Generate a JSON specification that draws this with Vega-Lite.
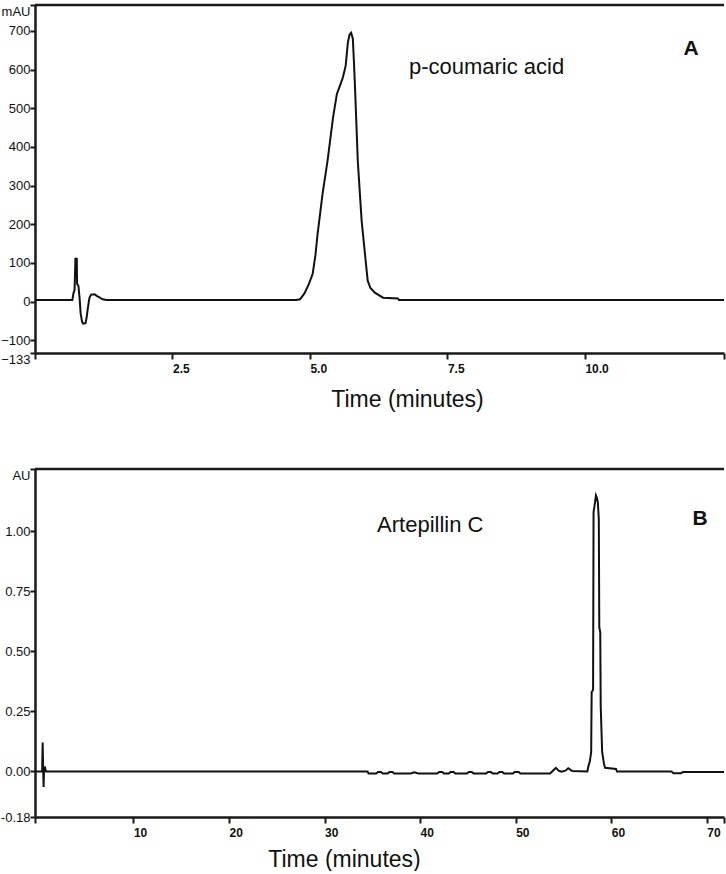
{
  "$schema": "https://vega.github.io/schema/vega-lite/v6.json",
  "background": "white",
  "padding": {"left": 0, "top": 3, "right": 0, "bottom": 0},
  "spacing": 56,
  "datasets": {
    "a": [
      {"t": 0, "v": 4}, {"t": 0.68, "v": 4}, {"t": 0.7, "v": 22}, {"t": 0.72, "v": 30},
      {"t": 0.735, "v": 111}, {"t": 0.76, "v": 111}, {"t": 0.765, "v": 46}, {"t": 0.79, "v": 40},
      {"t": 0.81, "v": 10}, {"t": 0.83, "v": -30}, {"t": 0.855, "v": -52}, {"t": 0.875, "v": -57},
      {"t": 0.92, "v": -56}, {"t": 0.94, "v": -40}, {"t": 0.96, "v": -18}, {"t": 0.99, "v": 10},
      {"t": 1.02, "v": 18}, {"t": 1.08, "v": 19}, {"t": 1.13, "v": 14}, {"t": 1.18, "v": 10},
      {"t": 1.23, "v": 6}, {"t": 1.3, "v": 4}, {"t": 4.75, "v": 4}, {"t": 4.82, "v": 6},
      {"t": 4.9, "v": 21}, {"t": 4.98, "v": 45}, {"t": 5.05, "v": 72}, {"t": 5.1, "v": 120},
      {"t": 5.14, "v": 176}, {"t": 5.23, "v": 279}, {"t": 5.32, "v": 364}, {"t": 5.42, "v": 476},
      {"t": 5.49, "v": 537}, {"t": 5.55, "v": 560}, {"t": 5.6, "v": 580}, {"t": 5.65, "v": 610},
      {"t": 5.69, "v": 670}, {"t": 5.72, "v": 690}, {"t": 5.75, "v": 695}, {"t": 5.78, "v": 680},
      {"t": 5.8, "v": 620}, {"t": 5.82, "v": 553}, {"t": 5.87, "v": 364}, {"t": 5.94, "v": 209},
      {"t": 6.0, "v": 124}, {"t": 6.05, "v": 54}, {"t": 6.1, "v": 35}, {"t": 6.18, "v": 23},
      {"t": 6.33, "v": 10}, {"t": 6.6, "v": 8}, {"t": 6.62, "v": 4}, {"t": 12.53, "v": 4}
    ],
    "b": [
      {"t": -0.3, "v": 0}, {"t": 0.45, "v": 0}, {"t": 0.5, "v": 0.12}, {"t": 0.55, "v": 0.02},
      {"t": 0.6, "v": -0.065}, {"t": 0.65, "v": 0.01}, {"t": 0.75, "v": 0.015}, {"t": 0.85, "v": 0},
      {"t": 34.5, "v": 0}, {"t": 34.6, "v": -0.009}, {"t": 35.4, "v": -0.009}, {"t": 35.6, "v": -0.002},
      {"t": 35.9, "v": -0.002}, {"t": 36.1, "v": -0.009}, {"t": 36.6, "v": -0.009}, {"t": 36.8, "v": -0.002},
      {"t": 37.1, "v": -0.002}, {"t": 37.3, "v": -0.009}, {"t": 39.0, "v": -0.009}, {"t": 39.4, "v": -0.004},
      {"t": 39.8, "v": -0.009}, {"t": 41.8, "v": -0.009}, {"t": 42.0, "v": -0.002}, {"t": 42.3, "v": -0.002},
      {"t": 42.5, "v": -0.009}, {"t": 43.0, "v": -0.009}, {"t": 43.2, "v": -0.002}, {"t": 43.5, "v": -0.002},
      {"t": 43.7, "v": -0.009}, {"t": 44.9, "v": -0.009}, {"t": 45.1, "v": -0.002}, {"t": 45.4, "v": -0.002},
      {"t": 45.6, "v": -0.009}, {"t": 46.9, "v": -0.009}, {"t": 47.1, "v": -0.002}, {"t": 47.4, "v": -0.002},
      {"t": 47.6, "v": -0.009}, {"t": 48.1, "v": -0.009}, {"t": 48.3, "v": -0.002}, {"t": 48.6, "v": -0.002},
      {"t": 48.8, "v": -0.009}, {"t": 49.7, "v": -0.009}, {"t": 49.9, "v": -0.002}, {"t": 50.3, "v": -0.002},
      {"t": 50.5, "v": -0.009}, {"t": 53.6, "v": -0.009}, {"t": 53.9, "v": 0.003}, {"t": 54.2, "v": 0.015},
      {"t": 54.5, "v": 0.003}, {"t": 54.8, "v": -0.001}, {"t": 55.2, "v": 0.003}, {"t": 55.5, "v": 0.013},
      {"t": 55.9, "v": 0.002}, {"t": 57.5, "v": 0}, {"t": 57.6, "v": 0.02}, {"t": 57.75, "v": 0.04},
      {"t": 57.9, "v": 0.08}, {"t": 57.95, "v": 0.33}, {"t": 58.1, "v": 0.34}, {"t": 58.15, "v": 1.08},
      {"t": 58.3, "v": 1.12}, {"t": 58.4, "v": 1.15}, {"t": 58.5, "v": 1.14}, {"t": 58.6, "v": 1.12},
      {"t": 58.7, "v": 1.05}, {"t": 58.75, "v": 0.6}, {"t": 58.85, "v": 0.58}, {"t": 58.9, "v": 0.27},
      {"t": 59.05, "v": 0.08}, {"t": 59.25, "v": 0.03}, {"t": 59.35, "v": 0.015}, {"t": 60.5, "v": 0.01},
      {"t": 60.6, "v": 0}, {"t": 66.3, "v": 0}, {"t": 66.5, "v": -0.008}, {"t": 67.3, "v": -0.008},
      {"t": 67.5, "v": -0.002}, {"t": 71.8, "v": -0.002}
    ],
    "notesA": [{"label": "p-coumaric acid"}],
    "tagA": [{"label": "A"}],
    "notesB": [{"label": "Artepillin C"}],
    "tagB": [{"label": "B"}]
  },
  "vconcat": [
    {
      "width": 689,
      "height": 348,
      "layer": [
        {
          "data": {"name": "a"},
          "mark": {"type": "line", "color": "#111", "strokeWidth": 2, "interpolate": "linear"},
          "encoding": {
            "x": {
              "field": "t", "type": "quantitative",
              "scale": {"domain": [0, 12.53], "nice": false, "zero": false},
              "axis": {
                "values": [0, 2.5, 5, 7.5, 10, 12.53], "tickCount": 20,
                "labelExpr": "(datum.value == 0 || datum.value > 12) ? '' : format(datum.value, '.1f')",
                "labelAlign": "left", "labelFontWeight": "bold", "labelFontSize": 12,
                "labelPadding": 4, "tickSize": 6, "labelFlush": false, "labelOverlap": false,
                "title": "Time (minutes)", "titleFontSize": 23, "titleFontWeight": "normal",
                "titleX": 372, "titleY": 46, "titleBaseline": "middle", "titleAnchor": null
              }
            },
            "y": {
              "field": "v", "type": "quantitative",
              "scale": {"domain": [-133, 767], "nice": false, "zero": false},
              "axis": {
                "values": [-133, -100, 0, 100, 200, 300, 400, 500, 600, 700, 767], "tickCount": 20,
                "labelExpr": "datum.value > 750 ? 'mAU' : format(datum.value, 'd')",
                "labelBaseline": {"condition": {"test": "datum.value > 750 || datum.value < -120", "value": "top"}, "value": "middle"},
                "labelFontSize": 13, "labelPadding": 0, "tickSize": 5,
                "labelOverlap": false, "labelFlush": false, "title": null
              }
            }
          }
        },
        {
          "data": {"name": "tagA"},
          "mark": {"type": "rule", "color": "#1a1a1a", "strokeWidth": 2.5},
          "encoding": {"y": {"datum": 767}}
        },
        {
          "data": {"name": "notesA"},
          "mark": {"type": "text", "align": "left", "baseline": "middle", "fontSize": 22, "color": "#111"},
          "encoding": {"text": {"field": "label"}, "x": {"datum": 6.8}, "y": {"datum": 607}}
        },
        {
          "data": {"name": "tagA"},
          "mark": {"type": "text", "align": "center", "baseline": "middle", "fontSize": 21, "fontWeight": "bold", "color": "#111"},
          "encoding": {"text": {"field": "label"}, "x": {"datum": 11.93}, "y": {"datum": 654}}
        }
      ]
    },
    {
      "width": 689,
      "height": 348,
      "layer": [
        {
          "data": {"name": "b"},
          "mark": {"type": "line", "color": "#111", "strokeWidth": 2, "interpolate": "linear"},
          "encoding": {
            "x": {
              "field": "t", "type": "quantitative",
              "scale": {"domain": [-0.3, 71.8], "nice": false, "zero": false},
              "axis": {
                "values": [-0.3, 10, 20, 30, 40, 50, 60, 70, 71.8], "tickCount": 20,
                "labelExpr": "(datum.value < 1 || datum.value > 71) ? '' : format(datum.value, 'd')",
                "labelAlign": "left", "labelFontWeight": "bold", "labelFontSize": 12,
                "labelPadding": 4, "tickSize": 6, "labelFlush": false, "labelOverlap": false,
                "title": "Time (minutes)", "titleFontSize": 23, "titleFontWeight": "normal",
                "titleX": 309, "titleY": 42, "titleBaseline": "middle", "titleAnchor": null
              }
            },
            "y": {
              "field": "v", "type": "quantitative",
              "scale": {"domain": [-0.19, 1.26], "nice": false, "zero": false},
              "axis": {
                "values": [-0.19, 0, 0.25, 0.5, 0.75, 1, 1.26], "tickCount": 20,
                "labelExpr": "datum.value > 1.2 ? 'AU' : (datum.value < -0.1 ? '-0.18' : format(datum.value, '.2f'))",
                "labelBaseline": {"condition": {"test": "datum.value > 1.2", "value": "top"}, "value": "middle"},
                "labelFontSize": 13, "labelPadding": 0, "tickSize": 5,
                "labelOverlap": false, "labelFlush": false, "title": null
              }
            }
          }
        },
        {
          "data": {"name": "tagB"},
          "mark": {"type": "rule", "color": "#1a1a1a", "strokeWidth": 2.5},
          "encoding": {"y": {"datum": 1.26}}
        },
        {
          "data": {"name": "notesB"},
          "mark": {"type": "text", "align": "left", "baseline": "middle", "fontSize": 22, "color": "#111"},
          "encoding": {"text": {"field": "label"}, "x": {"datum": 35.5}, "y": {"datum": 1.025}}
        },
        {
          "data": {"name": "tagB"},
          "mark": {"type": "text", "align": "center", "baseline": "middle", "fontSize": 21, "fontWeight": "bold", "color": "#111"},
          "encoding": {"text": {"field": "label"}, "x": {"datum": 69.3}, "y": {"datum": 1.05}}
        }
      ]
    }
  ],
  "config": {
    "font": "Liberation Sans",
    "view": {"stroke": null},
    "axis": {
      "grid": false,
      "labelOverlap": false,
      "domainColor": "#1a1a1a", "domainWidth": 2.5,
      "tickColor": "#1a1a1a", "tickWidth": 2,
      "labelColor": "#111", "titleColor": "#111",
      "labelFont": "Liberation Sans", "titleFont": "Liberation Sans"
    }
  }
}
